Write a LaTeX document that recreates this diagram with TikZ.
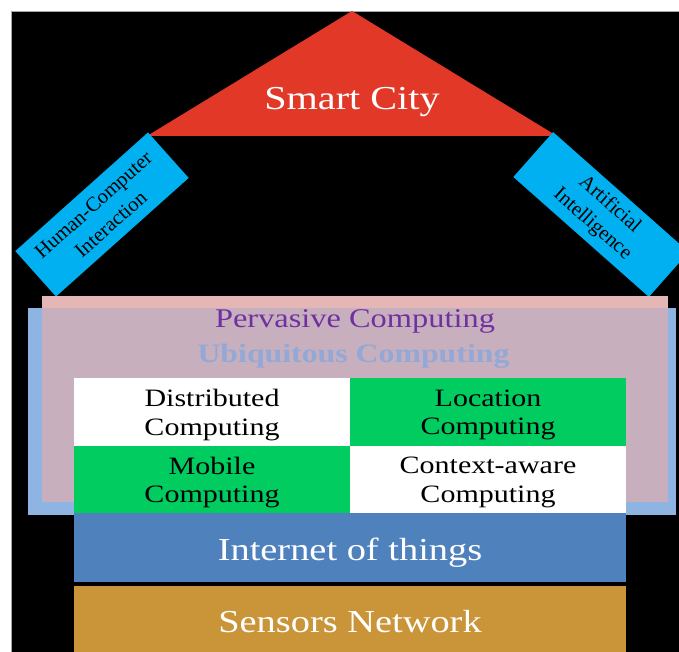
\documentclass[tikz,border=0pt]{standalone}
\usepackage{fontspec}
\setmainfont{Liberation Serif}
\newfontfamily\widefont[FakeStretch=1.2]{Liberation Serif}
\definecolor{smartred}{RGB}{226,56,40}
\definecolor{hcicyan}{RGB}{0,176,240}
\definecolor{pinkbg}{RGB}{228,182,181}
\definecolor{ubiblue}{RGB}{141,180,226}
\definecolor{mauve}{RGB}{199,175,190}
\definecolor{cellgreen}{RGB}{0,204,96}
\definecolor{iotblue}{RGB}{79,129,189}
\definecolor{sensorbrown}{RGB}{201,149,56}
\definecolor{pervpurple}{RGB}{112,48,160}
\definecolor{ubitext}{RGB}{146,168,214}
\begin{document}
\begin{tikzpicture}[x=1pt,y=-1pt,
  sidebox/.style={fill=hcicyan, inner sep=0pt, align=center, text=black,
    font=\fontsize{20.5}{26}\selectfont},
  celltext/.style={inner sep=0pt, align=center, text=black,
    font=\widefont\fontsize{25}{28.5}\selectfont},
  layertext/.style={anchor=base, inner sep=0pt, text=white,
    font=\widefont\fontsize{32}{36}\selectfont}]
\clip (0,0) rectangle (679,652);
\fill[white] (0,0) rectangle (679,652);
\draw[fill=black, draw=gray!70, line width=0.8pt] (11,11) rectangle (700,700);
% roof
\fill[smartred] (352,11) -- (557,136) -- (147,136) -- cycle;
\node[anchor=base, text=white, inner sep=0pt,
  font=\widefont\fontsize{33.5}{36}\selectfont] (smart) at (352,110) {Smart City};
% side pillars
\node[sidebox, rotate=41.8, minimum width=178pt, minimum height=61pt]
  (hci) at (102,214.5) {Human-Computer\\Interaction};
\node[sidebox, rotate=-41.5, minimum width=181pt, minimum height=60pt]
  (ai) at (601,214.5) {Artificial\\Intelligence};
% ubiquitous / pervasive layers
\fill[ubiblue] (28,308) rectangle (676,515);
\fill[pinkbg] (42,296) rectangle (668,502);
\fill[mauve] (42,308) rectangle (668,502);
\node[anchor=base, inner sep=0pt, text=pervpurple,
  font=\widefont\fontsize{27}{30}\selectfont] (perv) at (355,327) {Pervasive Computing};
\node[anchor=base, inner sep=0pt, text=ubitext,
  font=\widefont\bfseries\fontsize{26.5}{30}\selectfont] (ubi) at (353.5,362) {Ubiquitous Computing};
% grid
\fill[white] (74,378) rectangle (350,446);
\fill[cellgreen] (350,378) rectangle (626,446);
\fill[cellgreen] (74,446) rectangle (350,513);
\fill[white] (350,446) rectangle (626,513);
\node[celltext] (dist) at (212,415) {Distributed\\Computing};
\node[celltext] (loc) at (488,415) {Location\\Computing};
\node[celltext] (mob) at (212,482.5) {Mobile\\Computing};
\node[celltext] (ctx) at (488,482.5) {Context-aware\\Computing};
% base layers
\fill[iotblue] (74,513) rectangle (626,582);
\fill[sensorbrown] (74,586) rectangle (626,660);
\node[layertext] (iot) at (350,560) {Internet of things};
\node[layertext] (sens) at (350,632) {Sensors Network};
\end{tikzpicture}
\end{document}
